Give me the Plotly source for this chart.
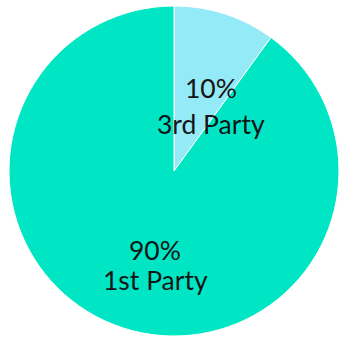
import plotly.graph_objects as go

# Share of data by source
labels = ["3rd Party", "1st Party"]
values = [10, 90]
colors = ["#94EAF6", "#00E6C5"]

W, H = 339, 338

fig = go.Figure(
    go.Pie(
        labels=labels,
        values=values,
        sort=False,
        direction="clockwise",
        rotation=0,
        marker=dict(colors=colors, line=dict(color="white", width=1)),
        textinfo="none",
        hoverinfo="label+percent",
        showlegend=False,
    )
)

# Label placement (pixel centres of the percentage line and the name line)
label_pos = {
    "3rd Party": ((208, 84), (208, 121)),
    "1st Party": ((150, 250), (151, 281)),
}

total = sum(values)
font = dict(family="Lato", size=26.5, color="#151515")
for lab, val in zip(labels, values):
    (px, py), (nx, ny) = label_pos[lab]
    pct = f"{round(100 * val / total)}%"
    fig.add_annotation(x=px / W, y=1 - py / H, xref="paper", yref="paper",
                       text=pct, showarrow=False, font=font,
                       xanchor="center", yanchor="middle")
    fig.add_annotation(x=nx / W, y=1 - ny / H, xref="paper", yref="paper",
                       text=lab, showarrow=False, font=font,
                       xanchor="center", yanchor="middle")

fig.update_layout(
    width=W,
    height=H,
    margin=dict(l=9, r=0, t=6, b=2),
    paper_bgcolor="white",
    plot_bgcolor="white",
)

fig.write_html("out.html")
